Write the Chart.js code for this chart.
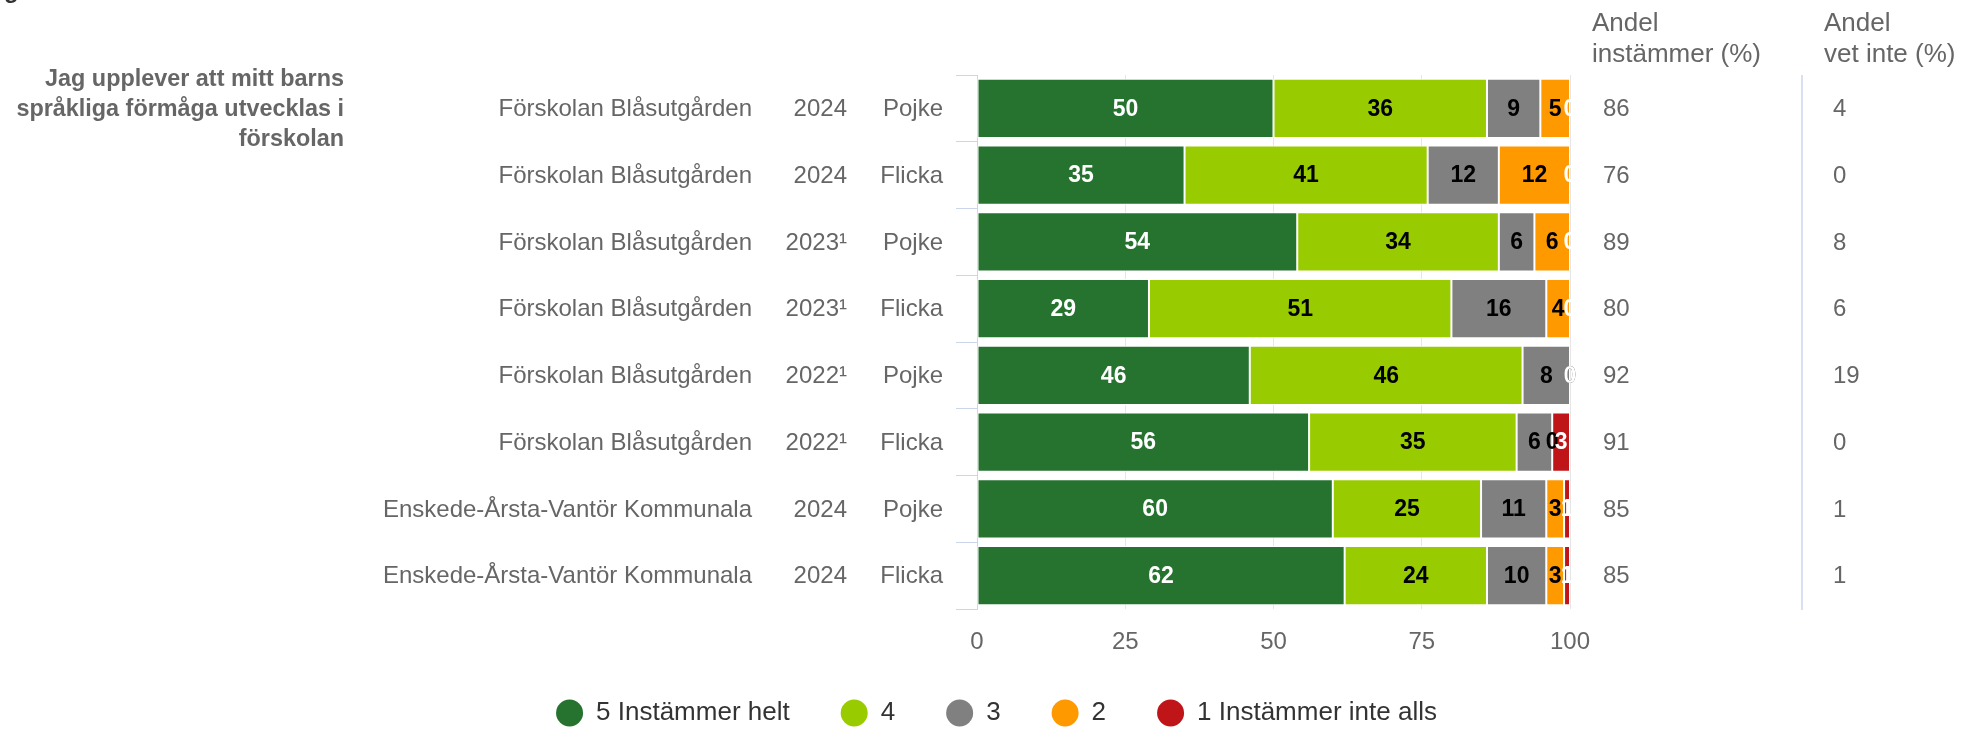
<!DOCTYPE html>
<html lang="sv">
<head>
<meta charset="UTF-8">
<title>Jag upplever att mitt barns språkliga förmåga utvecklas i förskolan</title>
<script src="https://cdn.jsdelivr.net/npm/chart.js"></script>
<style>
  body { margin: 0; background: #fff; }
  #wrap { width: 1965px; height: 729px; position: relative; }
</style>
</head>
<body>
<div id="wrap"><canvas id="myChart"></canvas></div>
<script>
// data
const questionLines = ['Jag upplever att mitt barns', 'språkliga förmåga utvecklas i', 'förskolan'];
const schools = ['Förskolan Blåsutgården', 'Förskolan Blåsutgården', 'Förskolan Blåsutgården', 'Förskolan Blåsutgården',
                 'Förskolan Blåsutgården', 'Förskolan Blåsutgården', 'Enskede-Årsta-Vantör Kommunala', 'Enskede-Årsta-Vantör Kommunala'];
const years = ['2024', '2024', '2023¹', '2023¹', '2022¹', '2022¹', '2024', '2024'];
const genders = ['Pojke', 'Flicka', 'Pojke', 'Flicka', 'Pojke', 'Flicka', 'Pojke', 'Flicka'];

const seriesNames = ['5 Instämmer helt', '4', '3', '2', '1 Instämmer inte alls'];
const helt      = [50, 35, 54, 29, 46, 56, 60, 62];
const fyra      = [36, 41, 34, 51, 46, 35, 25, 24];
const tre       = [9, 12, 6, 16, 8, 6, 11, 10];
const tva       = [5, 12, 6, 4, 0, 0, 3, 3];
const inteAlls  = [0, 0, 0, 0, 0, 3, 1, 1];

const andelInstammer = [86, 76, 89, 80, 92, 91, 85, 85];
const andelVetInte   = [4, 0, 8, 6, 19, 0, 1, 1];
const xTicks = [0, 25, 50, 75, 100];

const colors = ['#267330', '#99cc00', '#808080', '#ff9900', '#c01518'];
const labelColors = ['#ffffff', '#000000', '#000000', '#000000', '#ffffff'];
const FONT = "'Liberation Sans', Arial, sans-serif";

const series = [helt, fyra, tre, tva, inteAlls];

// text around the plot: labels columns, question, right-hand tables, bar values
const extraText = {
    id: 'extraText',
    afterLayout(chart) {
        // keep the x tick labels from being clipped by the short axis box
        const x = chart.scales.x;
        x.bottom = x.top + 70;
    },
    afterDatasetsDraw(chart) {
        const ctx = chart.ctx;
        ctx.save();
        ctx.font = 'bold 23px ' + FONT;
        ctx.textAlign = 'center';
        ctx.textBaseline = 'middle';
        chart.data.datasets.forEach((ds, di) => {
            const meta = chart.getDatasetMeta(di);
            ctx.fillStyle = labelColors[di];
            meta.data.forEach((bar, i) => {
                const cx = (bar.x + bar.base) / 2;
                ctx.fillText(String(ds.data[i]), cx, bar.y + 1);
            });
        });
        ctx.restore();
    },
    afterDraw(chart) {
        const ctx = chart.ctx;
        const y = chart.scales.y;
        ctx.save();

        // cut-off title fragment at the top edge
        ctx.fillStyle = '#333';
        ctx.font = 'bold 24px ' + FONT;
        ctx.textBaseline = 'alphabetic';
        ctx.fillText('g', 4, -2);

        // question
        ctx.fillStyle = '#666';
        ctx.font = 'bold 23.4px ' + FONT;
        ctx.textAlign = 'right';
        ctx.textBaseline = 'middle';
        questionLines.forEach((t, k) => ctx.fillText(t, 344, 80 + k * 30));

        // category columns
        ctx.font = '24px ' + FONT;
        schools.forEach((s, i) => {
            const py = y.getPixelForValue(i) + 1;
            ctx.fillText(s, 752, py);
            ctx.fillText(years[i], 847, py);
            ctx.fillText(genders[i], 943, py);
        });

        // right hand columns
        ctx.textAlign = 'left';
        ctx.font = '26px ' + FONT;
        ctx.fillText('Andel', 1592, 24);
        ctx.fillText('instämmer (%)', 1592, 55);
        ctx.fillText('Andel', 1824, 24);
        ctx.fillText('vet inte (%)', 1824, 55);

        ctx.font = '24px ' + FONT;
        andelInstammer.forEach((v, i) => {
            const py = y.getPixelForValue(i) + 1;
            ctx.fillText(String(v), 1603, py);
            ctx.fillText(String(andelVetInte[i]), 1833, py);
        });

        ctx.strokeStyle = '#ccd6eb';
        ctx.lineWidth = 1.5;
        ctx.beginPath();
        ctx.moveTo(1802, 75);
        ctx.lineTo(1802, 610);
        ctx.stroke();
        ctx.restore();
    }
};

const ctx = document.getElementById('myChart').getContext('2d');
const chart = new Chart(ctx, {
    type: 'bar',
    data: {
        labels: schools.map((s, i) => s + ' ' + years[i] + ' ' + genders[i]),
        datasets: series.map((vals, k) => ({
            label: seriesNames[k],
            data: vals,
            backgroundColor: colors[k],
            borderColor: '#ffffff',
            borderWidth: 1,
            borderSkipped: false,
            barPercentage: 1,
            categoryPercentage: 0.884
        }))
    },
    options: {
        indexAxis: 'y',
        responsive: true,
        maintainAspectRatio: false,
        animation: false,
        layout: { padding: { left: 28, right: 0, top: 75, bottom: -7 } },
        scales: {
            y: {
                stacked: true,
                grid: { drawOnChartArea: false, color: '#ccd6eb', tickLength: 21, lineWidth: 1 },
                border: { display: true, color: '#ccd6eb' },
                ticks: { display: false },
                afterFit(scale) { scale.width = 949; }
            },
            yRight: {
                axis: 'y',
                type: 'category',
                position: 'right',
                grid: { display: false },
                border: { display: false },
                ticks: { display: false },
                afterFit(scale) { scale.width = 395; }
            },
            x: {
                stacked: true,
                min: 0,
                max: 100,
                afterBuildTicks(scale) { scale.ticks = xTicks.map(v => ({ value: v })); },
                grid: { color: '#e6e6e6', drawTicks: false },
                border: { display: false },
                ticks: { color: '#666', padding: 19, font: { family: FONT, size: 24 } },
                afterFit(scale) { scale.height = 40; }
            }
        },
        plugins: {
            tooltip: { enabled: false },
            legend: {
                position: 'bottom',
                labels: {
                    usePointStyle: true,
                    pointStyle: 'circle',
                    pointStyleWidth: 27,
                    boxHeight: 19,
                    padding: 51,
                    color: '#333',
                    font: { family: FONT, size: 26 },
                    generateLabels(c) {
                        return Chart.defaults.plugins.legend.labels.generateLabels(c).map(l => {
                            l.strokeStyle = l.fillStyle;
                            l.lineWidth = 0;
                            return l;
                        });
                    }
                }
            }
        }
    },
    plugins: [extraText]
});
</script>
</body>
</html>
